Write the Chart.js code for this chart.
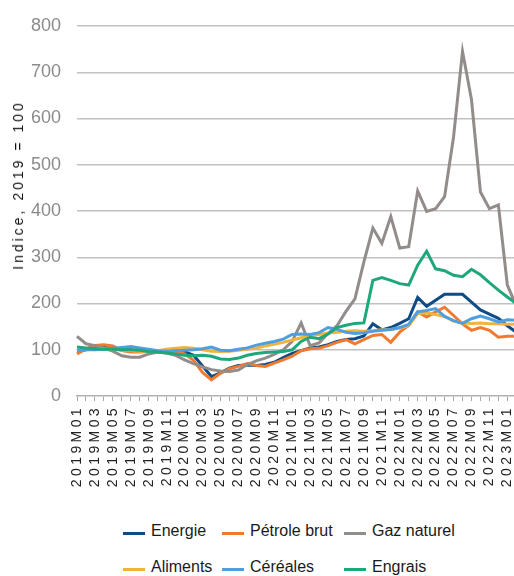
<!DOCTYPE html>
<html>
<head>
<meta charset="utf-8">
<script src="https://cdn.jsdelivr.net/npm/chart.js@4/dist/chart.umd.min.js"></script>
<style>
html,body{margin:0;padding:0;background:#fff;overflow:hidden;width:514px;height:576px;}
#wrap{position:relative;width:514px;height:576px;overflow:hidden;}
#c{position:absolute;left:0;top:0;}
#ytitle{position:absolute;left:18px;top:185px;transform:translate(-50%,-50%) rotate(-90deg);white-space:nowrap;font-size:14px;font-family:'Liberation Sans',Arial,sans-serif;letter-spacing:3px;color:#111;}
.lg{position:absolute;height:20px;font-size:16px;font-family:'Liberation Sans',Arial,sans-serif;color:#1a1a1a;white-space:nowrap;}
.lg .sw{position:absolute;left:0;top:11px;width:22px;height:3px;}
.lg .tx{position:absolute;left:28px;top:0;line-height:20px;}
</style>
</head>
<body>
<div id="wrap">
<canvas id="c" width="520" height="505"></canvas>
<div id="ytitle">Indice, 2019 = 100</div>
<div id="legend"></div>
</div>
<script>
const categories = [
  "2019M01","2019M02","2019M03","2019M04","2019M05","2019M06","2019M07","2019M08","2019M09","2019M10","2019M11","2019M12",
  "2020M01","2020M02","2020M03","2020M04","2020M05","2020M06","2020M07","2020M08","2020M09","2020M10","2020M11","2020M12",
  "2021M01","2021M02","2021M03","2021M04","2021M05","2021M06","2021M07","2021M08","2021M09","2021M10","2021M11","2021M12",
  "2022M01","2022M02","2022M03","2022M04","2022M05","2022M06","2022M07","2022M08","2022M09","2022M10","2022M11","2022M12",
  "2023M01","2023M02"
];
const energie  = [97,100,103,105,103,100,100,97,96,96, 97,100,96,88,65,42,50,60,66,67, 66,68,73,83,92,98,104,106,111,118, 122,124,130,156,143,148,157,167,213,194, 207,220,220,220,203,186,177,168,152,138];
const petrole  = [91,102,109,111,108,98,95,95,96,95, 97,97,91,77,51,35,49,59,64,70, 66,64,71,78,86,98,102,103,109,116, 122,113,122,131,133,116,138,153,182,171, 182,192,174,156,142,148,142,127,129,129];
const gaz      = [129,113,109,103,97,87,84,84,91,95, 93,88,78,70,63,57,54,53,56,68, 76,82,90,100,118,158,109,115,135,152, 183,210,290,363,330,388,320,323,443,399, 405,431,560,745,641,441,405,413,240,195];
const aliments = [100,101,101,102,101,99,98,97,96,98, 101,103,105,103,100,97,96,97,99,101, 104,108,112,116,121,126,130,133,136,138, 140,141,140,141,143,144,147,152,178,180, 176,172,162,158,157,158,156,156,155,155];
const cereales = [98,100,100,101,103,105,107,104,101,98, 97,98,99,100,102,106,99,98,101,104, 110,114,118,123,133,134,133,137,148,144, 138,135,137,140,142,144,148,155,182,185, 189,172,163,157,167,173,167,160,165,164];
const engrais  = [106,104,102,101,101,100,100,99,96,95, 93,91,88,87,88,86,80,79,82,88, 92,94,95,96,100,118,127,124,134,148, 153,157,158,250,256,250,243,240,283,313, 275,271,261,258,274,262,245,229,214,200];
const yTicks = [0,100,200,300,400,500,600,700,800];

const seriesNames = ["Energie","Pétrole brut","Gaz naturel","Aliments","Céréales","Engrais"];
const seriesData = [energie, petrole, gaz, aliments, cereales, engrais];
const seriesColors = ["#0f4c86","#f07a30","#928c8a","#f0b43c","#4f9fe0","#1fa77c"];

Chart.defaults.font.family = "'Liberation Sans', Arial, sans-serif";

const datasets = seriesNames.map((n, i) => ({
  label: n,
  data: seriesData[i],
  borderColor: seriesColors[i],
  backgroundColor: seriesColors[i],
  borderWidth: 3,
  pointRadius: 0,
  tension: 0,
  fill: false,
  order: seriesNames.length - 1 - i
}));

const spacingPlugin = {
  id: 'spacing',
  beforeDraw(chart) {
    const xs = chart.scales.x;
    if (xs && !xs._wrappedLS) {
      const orig = xs.drawLabels;
      xs.drawLabels = function (area) {
        const c = this.ctx;
        c.save();
        c.letterSpacing = '3.4px';
        orig.call(this, area);
        c.restore();
      };
      xs._wrappedLS = true;
    }
  }
};

const chart = new Chart(document.getElementById('c'), {
  type: 'line',
  data: { labels: categories, datasets },
  options: {
    responsive: false,
    animation: false,
    events: [],
    layout: { padding: { top: 26, left: 0, right: 3.7, bottom: 0 } },
    plugins: { legend: { display: false }, tooltip: { enabled: false } },
    scales: {
      x: {
        type: 'category',
        offset: false,
        grid: { display: true, drawOnChartArea: false, drawTicks: true, tickLength: 5, color: '#aaa6a6', lineWidth: 1 },
        border: { display: true, color: '#b3afaf', width: 1.5 },
        ticks: {
          autoSkip: false, minRotation: 90, maxRotation: 90, padding: 4,
          color: '#222', font: { size: 14 },
          callback: function (v, i) { return i % 2 === 0 ? this.getLabelForValue(v) : ''; }
        },
        afterFit: (s) => { s.height = 109; s.paddingLeft = 0; s.paddingRight = 0; }
      },
      y: {
        min: 0, max: 800,
        afterBuildTicks: (s) => { s.ticks = yTicks.map(v => ({ value: v })); },
        grid: {
          drawTicks: false, lineWidth: 1.5,
          color: (ctx) => (ctx.tick && ctx.tick.value === 0) ? 'rgba(0,0,0,0)' : '#c4c0c0'
        },
        border: { display: false },
        ticks: { padding: 16, color: '#8b8b8b', font: { size: 18 } },
        afterFit: (s) => { s.width = 77; s.paddingTop = 0; s.paddingBottom = 0; }
      }
    }
  },
  plugins: [spacingPlugin]
});

// Legend (HTML) built from the datasets
const legendCols = [123, 222, 344];
const legendRows = [521, 557];
const lg = document.getElementById('legend');
chart.data.datasets.forEach((ds, i) => {
  const d = document.createElement('div');
  d.className = 'lg';
  d.style.left = legendCols[i % 3] + 'px';
  d.style.top = legendRows[Math.floor(i / 3)] + 'px';
  const sw = document.createElement('span');
  sw.className = 'sw';
  sw.style.background = ds.borderColor;
  const tx = document.createElement('span');
  tx.className = 'tx';
  tx.textContent = ds.label;
  d.appendChild(sw); d.appendChild(tx);
  lg.appendChild(d);
});
</script>
</body>
</html>
